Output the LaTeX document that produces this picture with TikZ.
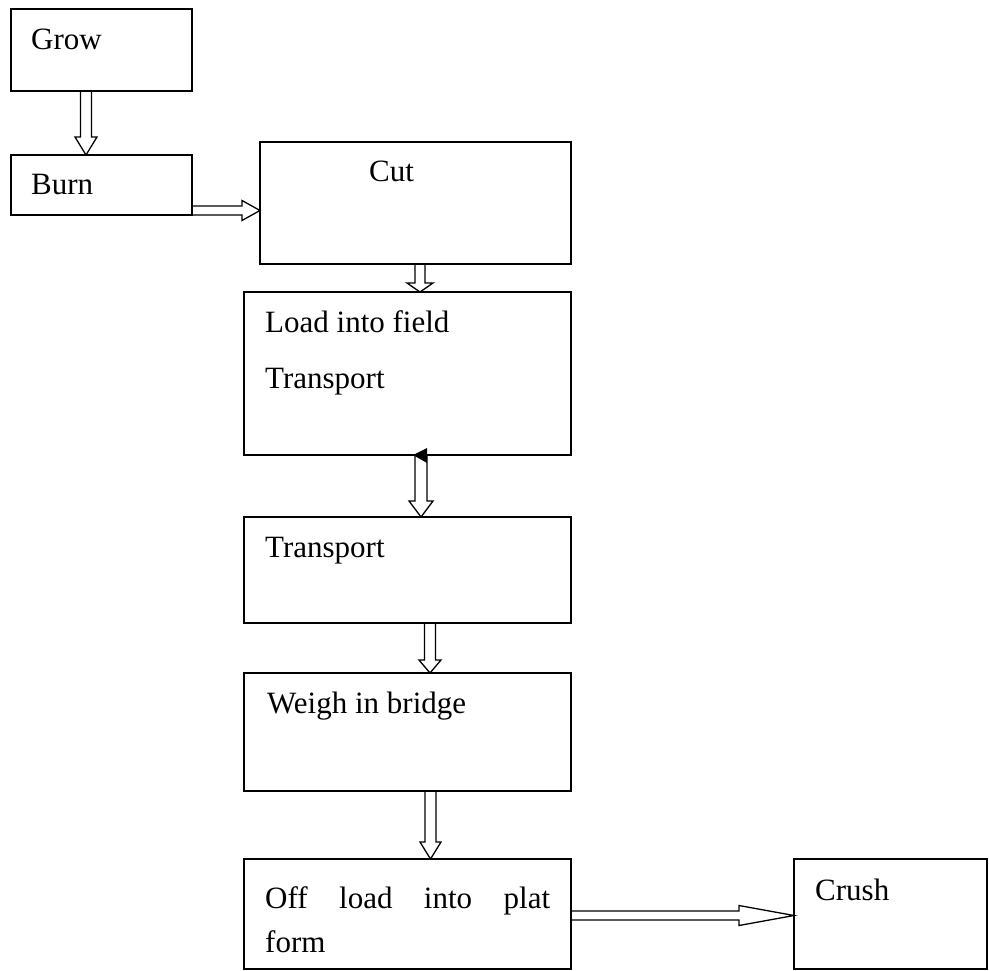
\documentclass[tikz,border=0pt]{standalone}
\usepackage{fontspec}
\setmainfont{Liberation Serif}
\usetikzlibrary{calc}

\tikzset{
  stage/.style={draw, line width=1.6pt, rectangle, anchor=north west,
                inner sep=0pt, outer sep=0pt},
  caption/.style={anchor=base west, inner sep=0pt,
                  font=\fontsize{31}{37}\selectfont},
  flow/.style={draw, line width=1.3pt, line join=miter},
}

% hollow block arrow going down: from, to, x, shaft half width, head half width, head length
\newcommand{\downflow}[6]{%
  \path[flow] let \p1=(#1.south), \p2=(#2.north) in
    (#3pt-#4pt,\y1) -- (#3pt-#4pt,\y2+#6pt) -- (#3pt-#5pt,\y2+#6pt) --
    (#3pt,\y2) -- (#3pt+#5pt,\y2+#6pt) -- (#3pt+#4pt,\y2+#6pt) -- (#3pt+#4pt,\y1);}
% hollow block arrow going right: from, to, y, shaft half width, head half width, head length
\newcommand{\rightflow}[6]{%
  \path[flow] let \p1=(#1.east), \p2=(#2.west) in
    (\x1,-#3pt+#4pt) -- (\x2-#6pt,-#3pt+#4pt) -- (\x2-#6pt,-#3pt+#5pt) --
    (\x2,-#3pt) -- (\x2-#6pt,-#3pt-#5pt) -- (\x2-#6pt,-#3pt-#4pt) -- (\x1,-#3pt-#4pt);}

\begin{document}
\begin{tikzpicture}[x=1pt, y=-1pt]
  \useasboundingbox (0,0) rectangle (989,971);

  % process boxes
  \node[stage, minimum width=181pt, minimum height=82pt]  (grow)  at (11,9)    {};
  \node[stage, minimum width=181pt, minimum height=60pt]  (burn)  at (11,155)  {};
  \node[stage, minimum width=311pt, minimum height=122pt] (cut)   at (260,142) {};
  \node[stage, minimum width=327pt, minimum height=163pt] (load)  at (244,292) {};
  \node[stage, minimum width=327pt, minimum height=106pt] (trans) at (244,517) {};
  \node[stage, minimum width=327pt, minimum height=118pt] (weigh) at (244,673) {};
  \node[stage, minimum width=327pt, minimum height=110pt] (off)   at (244,859) {};
  \node[stage, minimum width=193pt, minimum height=110pt] (crush) at (794,859) {};

  % box captions
  \node[caption] (tgrow)   at (31,50)   {Grow};
  \node[caption] (tburn)   at (31,195)  {Burn};
  \node[caption] (tcut)    at (369,182) {Cut};
  \node[caption] (tload)   at (265,332) {Load into field};
  \node[caption] (tload2)  at (265,388) {Transport};
  \node[caption] (ttrans)  at (265,557) {Transport};
  \node[caption] (tweigh)  at (267,713) {Weigh in bridge};
  \node[caption] (toff)    at (265,908) {\makebox[285pt][s]{Off\hfill load\hfill into\hfill plat}};
  \node[caption] (toff2)   at (265,952) {form};
  \node[caption] (tcrush)  at (815,900) {Crush};

  % connectors
  \downflow{grow}{burn}{86}{5.5}{11}{18}
  \rightflow{burn}{cut}{210.5}{4.5}{10}{18}
  \downflow{cut}{load}{420}{5}{13}{9}
  \downflow{load}{trans}{421}{6}{12}{16}
  \downflow{trans}{weigh}{430}{5.5}{11}{13}
  \downflow{weigh}{off}{430.5}{5.5}{10.5}{17}
  \rightflow{off}{crush}{915.5}{4.5}{10}{55}

  % small solid tip at the foot of the load box
  \fill (413,455) -- (427,448) -- (427,463) -- cycle;
\end{tikzpicture}
\end{document}
